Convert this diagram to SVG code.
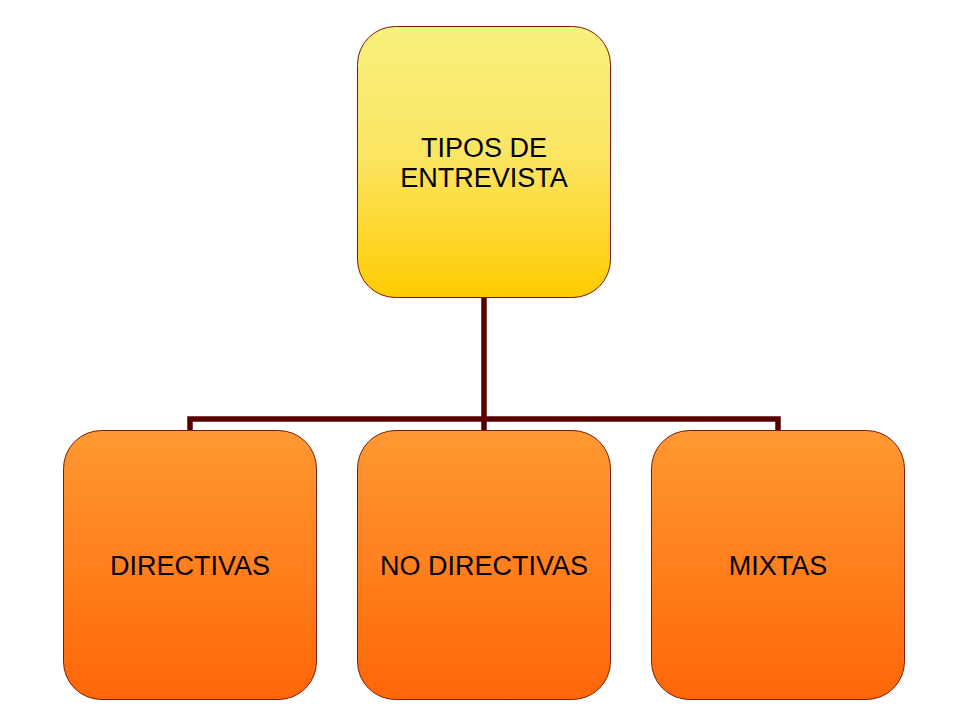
<svg xmlns="http://www.w3.org/2000/svg" width="960" height="720" viewBox="0 0 960 720">
  <defs>
    <linearGradient id="gTop" x1="0" y1="0" x2="0" y2="1">
      <stop offset="0" stop-color="#F8F07E"/>
      <stop offset="0.5" stop-color="#FBE460"/>
      <stop offset="1" stop-color="#FFCC00"/>
    </linearGradient>
    <linearGradient id="gBot" x1="0" y1="0" x2="0" y2="1">
      <stop offset="0" stop-color="#FF9933"/>
      <stop offset="1" stop-color="#FF6608"/>
    </linearGradient>
  </defs>
  <style>
    .box { stroke: #7A1A00; stroke-width: 1; }
    .top { fill: url(#gTop); }
    .bot { fill: url(#gBot); }
    .lbl { font-family: "Liberation Sans", Arial, sans-serif; font-size: 27px; fill: #000; text-anchor: middle; }
    .conn { fill: none; stroke: #580000; stroke-width: 5.5; }
  </style>
  <rect width="960" height="720" fill="#fff"/>
  <g id="connectors">
    <path class="conn" d="M484,297 V419"/>
    <path class="conn" d="M190,430 V419 H778 V430"/>
    <path class="conn" d="M484,419 V430"/>
  </g>
  <g id="node-tipos">
    <rect class="box top" x="357.5" y="26.5" width="253" height="271" rx="38" ry="38"/>
    <text class="lbl" x="484" y="157">TIPOS DE</text>
    <text class="lbl" x="484" y="187">ENTREVISTA</text>
  </g>
  <g id="node-directivas">
    <rect class="box bot" x="63.5" y="430.5" width="253" height="269" rx="38" ry="38"/>
    <text class="lbl" x="190" y="575">DIRECTIVAS</text>
  </g>
  <g id="node-no-directivas">
    <rect class="box bot" x="357.5" y="430.5" width="253" height="269" rx="38" ry="38"/>
    <text class="lbl" x="484" y="575">NO DIRECTIVAS</text>
  </g>
  <g id="node-mixtas">
    <rect class="box bot" x="651.5" y="430.5" width="253" height="269" rx="38" ry="38"/>
    <text class="lbl" x="778" y="575">MIXTAS</text>
  </g>
</svg>
